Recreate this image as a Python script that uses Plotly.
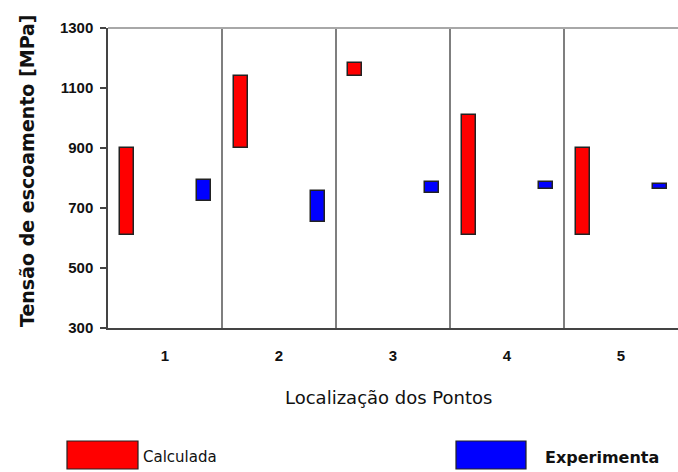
import plotly.graph_objects as go

# Yield stress ranges per measurement location (MPa)
locations = [1, 2, 3, 4, 5]
location_labels = ["1", "2", "3", "4", "5"]
calc_low = [610, 900, 1140, 610, 610]
calc_high = [900, 1140, 1185, 1010, 900]
exp_low = [725, 655, 750, 764, 764]
exp_high = [795, 757, 787, 788, 779]
series_names = ["Calculada", "Experimenta"]
y_ticks = [300, 500, 700, 900, 1100, 1300]

RED = "#FF0000"
BLUE = "#0000FF"
EDGE = "#222222"
BAR_W = 0.125

fig = go.Figure()
fig.add_trace(go.Bar(
    x=[p - 0.333 for p in locations],
    y=[h - l for l, h in zip(calc_low, calc_high)],
    base=calc_low,
    width=BAR_W,
    name=series_names[0],
    marker=dict(color=RED, line=dict(color=EDGE, width=1.5)),
))
fig.add_trace(go.Bar(
    x=[p + 0.34 for p in locations],
    y=[h - l for l, h in zip(exp_low, exp_high)],
    base=exp_low,
    width=BAR_W,
    name=series_names[1],
    marker=dict(color=BLUE, line=dict(color=EDGE, width=1.5)),
))

# separators between locations
for p in locations[:-1]:
    fig.add_shape(type="line", xref="x", yref="paper", x0=p + 0.5, x1=p + 0.5,
                  y0=0, y1=1, line=dict(color="#555555", width=1.5), layer="below")
# top frame line
fig.add_shape(type="line", xref="paper", yref="paper", x0=0, x1=1, y0=1, y1=1,
              line=dict(color="#A8A8A8", width=2))

# hand-drawn legend below the chart
PLOT_L, PLOT_W, PLOT_B, PLOT_H = 108, 570, 328, 300


def px_x(v):
    return (v - PLOT_L) / PLOT_W


def px_y(v):
    return (PLOT_B - v) / PLOT_H


legend_items = [(RED, 67, 138, 141, "normal", 15), (BLUE, 456, 526, 543, 600, 16)]
for (color, x0, x1, tx, wt, fs), name in zip(legend_items, series_names):
    fig.add_shape(type="rect", xref="paper", yref="paper",
                  x0=px_x(x0), x1=px_x(x1), y0=px_y(469), y1=px_y(441),
                  fillcolor=color, line=dict(color=EDGE, width=1.2))
    fig.add_annotation(xref="paper", yref="paper", x=px_x(tx), y=px_y(457),
                       text=name, showarrow=False, xanchor="left", yanchor="middle",
                       font=dict(family="DejaVu Sans", size=fs, color="#111111",
                                 weight=wt))

fig.add_annotation(xref="paper", yref="paper", x=px_x(388), y=px_y(397),
                   text="Localização dos Pontos", showarrow=False,
                   xanchor="center", yanchor="middle",
                   font=dict(family="DejaVu Sans", size=18, color="#111111"))
fig.add_annotation(xref="paper", yref="paper", x=px_x(27), y=px_y(171),
                   text="<b>Tensão de escoamento [MPa]</b>", showarrow=False,
                   textangle=-90, xanchor="center", yanchor="middle",
                   font=dict(family="DejaVu Sans", size=19, color="#111111"))

fig.update_layout(
    width=678, height=472,
    margin=dict(l=PLOT_L, r=0, t=28, b=144),
    paper_bgcolor="white", plot_bgcolor="white",
    showlegend=False, bargap=0,
    font=dict(family="Liberation Sans", color="#111111"),
)
fig.update_xaxes(
    range=[0.5, 5.5], tickvals=locations, ticktext=location_labels,
    showgrid=False, zeroline=False, ticks="",
    showline=True, linecolor="#444444", linewidth=2,
    tickfont=dict(family="Liberation Sans", size=15, weight="bold"),
    ticklabelstandoff=13,
)
fig.update_yaxes(
    range=[300, 1300], tickvals=y_ticks,
    showgrid=False, zeroline=False,
    ticks="outside", ticklen=6, tickcolor="#444444", tickwidth=1.5,
    showline=True, linecolor="#444444", linewidth=1.5,
    tickfont=dict(family="Liberation Sans", size=15, weight="bold"),
    ticklabelstandoff=4,
)

fig.write_html("out.html")
